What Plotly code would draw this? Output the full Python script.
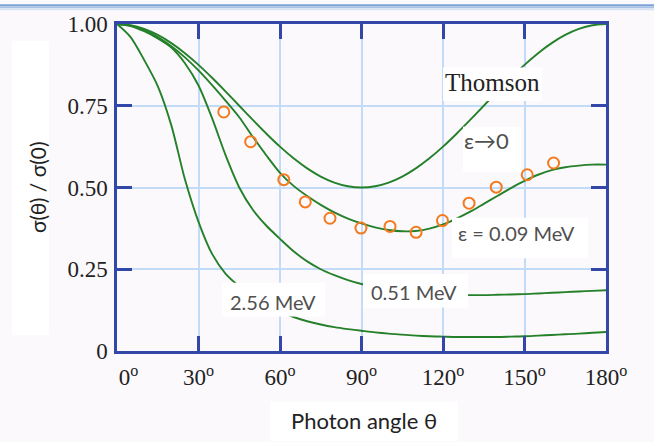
import plotly.graph_objects as go

# ---------------- data ----------------
theta = [0, 5, 10, 15, 20, 25, 30, 35, 40, 45, 50, 55, 60, 65, 70, 75, 80, 85, 90,
         95, 100, 105, 110, 115, 120, 125, 130, 135, 140, 145, 150, 155, 160, 165, 170, 175, 180]

thomson = [1.0, 0.9962, 0.9849, 0.9665, 0.9415, 0.9107, 0.875, 0.8355, 0.7934, 0.75,
           0.7066, 0.6645, 0.625, 0.5893, 0.5585, 0.5335, 0.5151, 0.5038, 0.5,
           0.5038, 0.5151, 0.5335, 0.5585, 0.5893, 0.625, 0.6645, 0.7066, 0.75,
           0.7934, 0.8355, 0.875, 0.9107, 0.9415, 0.9665, 0.9849, 0.9962, 1.0]

eps_009 = [1.0, 0.995, 0.982, 0.96, 0.932, 0.898, 0.858, 0.813, 0.765, 0.715,
           0.655, 0.598, 0.545, 0.505, 0.474, 0.447, 0.424, 0.405, 0.39,
           0.378, 0.37, 0.366, 0.367, 0.374, 0.387, 0.405, 0.426, 0.45,
           0.474, 0.498, 0.52, 0.539, 0.553, 0.562, 0.567, 0.57, 0.57]

eps_051 = [1.0, 0.994, 0.978, 0.956, 0.928, 0.88, 0.812, 0.712, 0.598, 0.50,
           0.432, 0.383, 0.343, 0.305, 0.274, 0.25, 0.232, 0.217, 0.205,
           0.196, 0.189, 0.183, 0.178, 0.175, 0.173, 0.172, 0.171, 0.171,
           0.172, 0.173, 0.174, 0.176, 0.178, 0.180, 0.182, 0.184, 0.186]

eps_256 = [1.0, 0.96, 0.89, 0.81, 0.69, 0.525, 0.395, 0.297, 0.236, 0.198,
           0.168, 0.142, 0.121, 0.104, 0.091, 0.081, 0.073, 0.067, 0.062,
           0.057, 0.053, 0.05, 0.047, 0.045, 0.044, 0.043, 0.043, 0.043,
           0.043, 0.044, 0.045, 0.047, 0.049, 0.051, 0.053, 0.056, 0.058]

meas_theta = [39.3, 49.2, 61.4, 69.3, 78.4, 89.8, 100.5, 110.1, 119.8, 129.6, 139.6, 151.0, 160.7]
meas_ratio = [0.731, 0.640, 0.524, 0.456, 0.406, 0.376, 0.381, 0.363, 0.399, 0.452, 0.501, 0.539, 0.575]

x_tick_vals = [0, 30, 60, 90, 120, 150, 180]
x_tick_text = ["\u00a0\u00a0\u00a0\u00a00<sup>o</sup>", "30<sup>o</sup>", "60<sup>o</sup>", "90<sup>o</sup>",
               "120<sup>o</sup>", "150<sup>o</sup>", "180<sup>o</sup>"]
y_tick_vals = [0, 0.25, 0.5, 0.75, 1.0]
y_tick_text = ["0", "0.25", "0.50", "0.75", "1.00"]

# ---------------- style ----------------
W, H = 654, 442
PL, PT, PW, PH = 117, 20, 489, 331
BG = "#fcf9fc"
GREEN = "#25802a"
ORANGE = "#f47a20"
FRAME = "#3347a8"
GRID = "#c2dcf8"
SERIF = "Liberation Serif, Times New Roman, serif"
SANS = "Lato, Noto Sans, sans-serif"
LBL = "#505050"


def dx(px):
    return (px - PL) / PW * 180.0


def dy(py):
    return (PT + PH - py) / PH


def paper_x(px):
    return (px - PL) / PW


def paper_y(py):
    return (PT + PH - py) / PH


fig = go.Figure()
for ys in [thomson, eps_009, eps_051, eps_256]:
    fig.add_trace(go.Scatter(x=theta, y=ys, mode="lines",
                             line=dict(color=GREEN, width=1.9, shape="spline", smoothing=0.8),
                             hoverinfo="skip", showlegend=False))
fig.add_trace(go.Scatter(x=meas_theta, y=meas_ratio, mode="markers",
                         marker=dict(symbol="circle-open", size=11, color=ORANGE,
                                     line=dict(width=2, color=ORANGE)),
                         showlegend=False))

shapes = []
# white label boxes inside the plot (pixel boxes -> data coords)
for (x0, y0, x1, y1) in [(443, 64, 542, 98),     # Thomson
                         (463, 124, 521, 170),   # eps->0
                         (452, 216, 588, 257),   # eps = 0.09
                         (363, 273, 468, 307),   # 0.51
                         (222, 282, 325, 316)]:  # 2.56
    shapes.append(dict(type="rect", xref="x", yref="y", x0=dx(x0), x1=dx(x1), y0=dy(y1), y1=dy(y0),
                       fillcolor="white", line=dict(width=0), layer="above"))
# white boxes behind axis titles
for (x0, y0, x1, y1) in [(12, 37, 49, 335), (270, 402, 458, 442)]:
    shapes.append(dict(type="rect", xref="paper", yref="paper", x0=paper_x(x0), x1=paper_x(x1),
                       y0=paper_y(y1), y1=paper_y(y0), fillcolor="white", line=dict(width=0), layer="below"))
# blue bar along the top edge
for (y0, y1, c) in [(0, 2, "#7da2d6"), (2, 4, "#a9c3e6"), (4, 6, "#d7e3f3")]:
    shapes.append(dict(type="rect", xref="paper", yref="paper", x0=paper_x(0), x1=paper_x(W),
                       y0=paper_y(y1), y1=paper_y(y0), fillcolor=c, line=dict(width=0), layer="below"))

annotations = [
    dict(text="Thomson", x=dx(492), y=dy(79), font=dict(family=SERIF, size=25, color="#222")),
    dict(text="ε→0", x=dx(486), y=dy(138), font=dict(family=SANS, size=22, color=LBL)),
    dict(text="ε = 0.09 MeV", x=dx(516), y=dy(232), font=dict(family=SANS, size=20, color=LBL)),
    dict(text="0.51 MeV", x=dx(414), y=dy(291), font=dict(family=SANS, size=20, color=LBL)),
    dict(text="2.56 MeV", x=dx(273), y=dy(301), font=dict(family=SANS, size=20, color=LBL)),
]
for a in annotations:
    a.update(xref="x", yref="y", showarrow=False, xanchor="center", yanchor="middle")
annotations.append(dict(text="σ(θ) / σ(0)", xref="paper", yref="paper", x=paper_x(37), y=paper_y(185),
                        textangle=-90, showarrow=False, xanchor="center", yanchor="middle",
                        font=dict(family=SANS, size=21, color="#222")))
annotations.append(dict(text="Photon angle θ", xref="paper", yref="paper", x=paper_x(364), y=paper_y(421),
                        showarrow=False, xanchor="center", yanchor="middle",
                        font=dict(family=SANS, size=22, color="#222")))

axis_common = dict(ticks="inside", ticklen=15, tickwidth=2.5, tickcolor=FRAME,
                   showline=True, linecolor=FRAME, linewidth=2.5, mirror="ticks",
                   showgrid=True, gridcolor=GRID, gridwidth=1.5, zeroline=False,
                   tickfont=dict(family=SERIF, size=23, color="#222"))

fig.update_xaxes(range=[0, 180], tickmode="array", tickvals=x_tick_vals, ticktext=x_tick_text,
                 ticklabelstandoff=4, **axis_common)
fig.update_yaxes(range=[0, 1], tickmode="array", tickvals=y_tick_vals, ticktext=y_tick_text,
                 ticklabelstandoff=2, **axis_common)

fig.update_layout(width=W, height=H, autosize=False,
                  margin=dict(l=PL, r=W - PL - PW, t=PT, b=H - PT - PH),
                  paper_bgcolor=BG, plot_bgcolor=BG,
                  shapes=shapes, annotations=annotations, showlegend=False)

fig.write_html("out.html")
